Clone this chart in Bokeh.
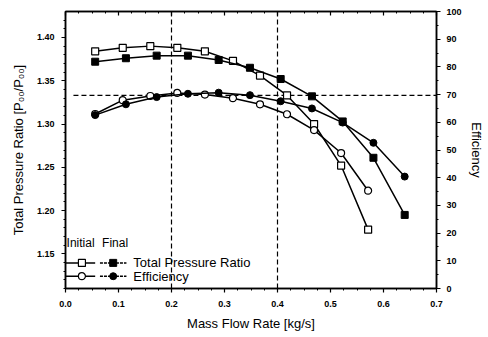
from bokeh.plotting import figure
from bokeh.models import Range1d, LinearAxis, Span, Label, FixedTicker
from bokeh.embed import file_html
from bokeh.resources import INLINE

# ---- data ----
init_x = [0.056, 0.108, 0.160, 0.211, 0.263, 0.316, 0.367, 0.418, 0.469, 0.520, 0.571]
init_pr = [1.384, 1.388, 1.390, 1.388, 1.384, 1.373, 1.356, 1.333, 1.300, 1.252, 1.178]
init_eff = [63.0, 68.0, 69.5, 70.6, 70.0, 68.7, 66.5, 62.9, 57.2, 48.9, 35.3]

final_x = [0.056, 0.114, 0.172, 0.231, 0.289, 0.348, 0.406, 0.465, 0.523, 0.581, 0.640]
final_pr = [1.372, 1.376, 1.379, 1.379, 1.374, 1.365, 1.352, 1.332, 1.303, 1.261, 1.195]
final_eff = [62.6, 66.5, 69.1, 70.3, 70.7, 69.8, 67.6, 65.0, 59.9, 52.6, 40.4]

x_ticks = [0.0, 0.1, 0.2, 0.3, 0.4, 0.5, 0.6, 0.7]
pr_ticks = [1.15, 1.20, 1.25, 1.30, 1.35, 1.40]
eff_ticks = [0, 10, 20, 30, 40, 50, 60, 70, 80, 90, 100]

ref_x = [0.2, 0.4]          # vertical dashed reference lines
ref_pr = 1.333              # horizontal dashed reference line
ref_pr_x = [0.015, 0.7]

legend_header = ["Initial", "Final"]
legend_labels = ["Total Pressure Ratio", "Efficiency"]

FONT = "Liberation Sans"

p = figure(width=486, height=333, output_backend="svg", toolbar_location=None,
           x_range=Range1d(0, 0.7), y_range=Range1d(1.11, 1.43),
           min_border_left=65, min_border_right=45, min_border_top=11,
           min_border_bottom=44)
p.extra_y_ranges = {"eff": Range1d(0, 100)}
p.xgrid.visible = False
p.ygrid.visible = False
p.outline_line_color = "black"
p.outline_line_width = 1.5
p.background_fill_color = "white"
p.border_fill_color = "white"


def style(ax, label_size="9px"):
    ax.axis_line_color = "black"
    ax.axis_line_width = 1.5
    ax.major_tick_line_color = "black"
    ax.minor_tick_line_color = "black"
    ax.major_tick_line_width = 1.2
    ax.major_tick_out = 4
    ax.major_tick_in = 0
    ax.minor_tick_out = 2
    ax.minor_tick_in = 0
    ax.major_label_text_font = FONT
    ax.major_label_text_font_size = label_size
    ax.major_label_text_font_style = "bold"
    ax.major_label_text_color = "black"
    ax.axis_label_text_font = FONT
    ax.axis_label_text_font_size = "13px"
    ax.axis_label_text_font_style = "normal"
    ax.axis_label_text_color = "black"


xa = p.xaxis[0]
style(xa)
xa.ticker = FixedTicker(ticks=x_ticks, minor_ticks=[i * 0.025 for i in range(29)])
xa.major_label_overrides = {t: f"{t:.1f}" for t in x_ticks}
xa.axis_label = "Mass Flow Rate [kg/s]"
xa.major_label_standoff = 8
xa.axis_label_standoff = 6

ya = p.yaxis[0]
style(ya)
ya.ticker = FixedTicker(ticks=pr_ticks, minor_ticks=[1.11 + i * 0.01 for i in range(33)])
ya.major_label_overrides = {t: f"{t:.2f}" for t in pr_ticks}
ya.axis_label = "Total Pressure Ratio [P\u2080\u2080/P\u2080\u2080]"
ya.major_label_standoff = 7
ya.axis_label_standoff = 8

ra = LinearAxis(y_range_name="eff", axis_label="Efficiency")
style(ra)
ra.ticker = FixedTicker(ticks=eff_ticks, minor_ticks=[i * 5 for i in range(21)])
ra.major_label_standoff = 6
ra.axis_label_standoff = 4
p.add_layout(ra, "right")

ta = LinearAxis()
style(ta)
ta.ticker = FixedTicker(ticks=x_ticks, minor_ticks=[i * 0.025 for i in range(29)])
ta.major_tick_out = 0
ta.major_tick_in = 4
ta.minor_tick_out = 0
ta.minor_tick_in = 2
ta.major_label_overrides = {t: "" for t in x_ticks}
ta.major_label_standoff = 0
p.add_layout(ta, "above")

# reference lines
for xv in ref_x:
    p.add_layout(Span(location=xv, dimension="height", line_color="black",
                      line_width=1.2, line_dash="5 3"))
p.line(ref_pr_x, [ref_pr, ref_pr], line_color="black", line_width=1.2, line_dash="5 3")

LW = 1.5
MS = 7
# Initial total pressure ratio (open squares)
p.line(init_x, init_pr, line_color="black", line_width=LW)
p.scatter(init_x, init_pr, marker="square", size=MS, fill_color="white",
          line_color="black", line_width=1.2)
# Final total pressure ratio (filled squares)
p.line(final_x, final_pr, line_color="black", line_width=LW)
p.scatter(final_x, final_pr, marker="square", size=MS, fill_color="black",
          line_color="black")
# Initial efficiency (open circles)
p.line(init_x, init_eff, line_color="black", line_width=LW, y_range_name="eff")
p.scatter(init_x, init_eff, marker="circle", size=MS, fill_color="white",
          line_color="black", line_width=1.2, y_range_name="eff")
# Final efficiency (filled circles)
p.line(final_x, final_eff, line_color="black", line_width=LW, y_range_name="eff")
p.scatter(final_x, final_eff, marker="circle", size=MS, fill_color="black",
          line_color="black", y_range_name="eff")

# ---- legend (drawn inside plot, lower-left) ----
leg_head_y = 1.163
leg_rows_y = [1.1396, 1.1242]
leg_init_line = [0.0, 0.056]
leg_init_mark = 0.031
leg_final_line = [0.065, 0.115]
leg_final_mark = 0.09
leg_text_x = 0.128
leg_head_x = [0.002, 0.069]

for hx, ht in zip(leg_head_x, legend_header):
    p.add_layout(Label(x=hx, y=leg_head_y, text=ht, text_font=FONT,
                       text_font_size="12px", text_baseline="middle",
                       text_color="black"))
markers = ["square", "circle"]
for yv, lab, mk in zip(leg_rows_y, legend_labels, markers):
    p.line(leg_init_line, [yv, yv], line_color="black", line_width=LW)
    p.scatter([leg_init_mark], [yv], marker=mk, size=MS, fill_color="white",
              line_color="black", line_width=1.2)
    p.line(leg_final_line, [yv, yv], line_color="black", line_width=LW, line_dash="3 1")
    p.scatter([leg_final_mark], [yv], marker=mk, size=MS, fill_color="black",
              line_color="black")
    p.add_layout(Label(x=leg_text_x, y=yv, text=lab, text_font=FONT,
                       text_font_size="13px", text_baseline="middle",
                       text_color="black"))

open("out.html", "w").write(file_html(p, INLINE))
